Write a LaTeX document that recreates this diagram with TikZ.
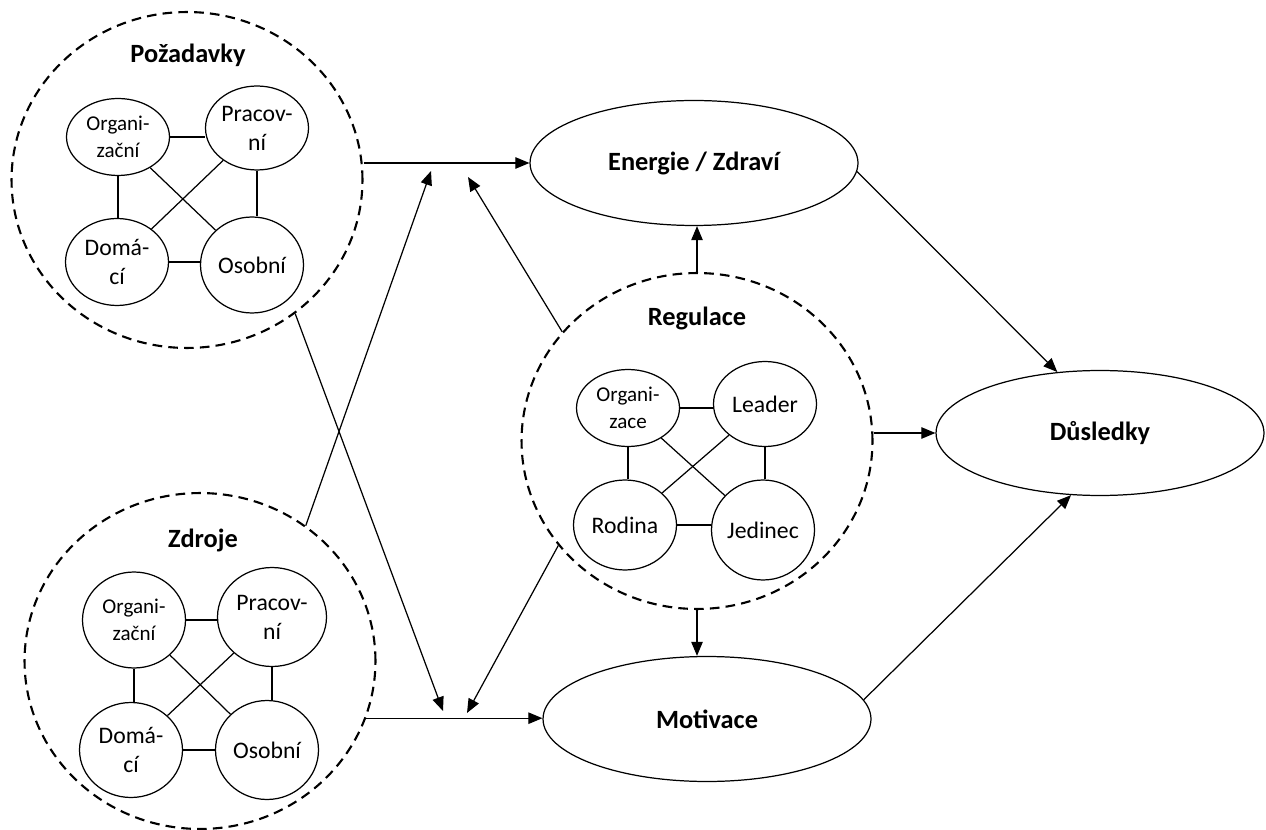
\documentclass[tikz,border=0pt]{standalone}
\usepackage{fontspec}
\setmainfont{Carlito}
\usetikzlibrary{shapes.geometric,arrows.meta}

\begin{document}
\begin{tikzpicture}[x=0.02cm,y=-0.02cm,
  group/.style={draw,ellipse,dash pattern=on 5.5pt off 3.5pt,line width=1.2pt,minimum width=7.02cm,minimum height=6.72cm},
  grouptitle/.style={font=\fontsize{15}{18}\selectfont\bfseries},
  outcome/.style={draw,ellipse,line width=0.7pt,minimum width=6.56cm,minimum height=2.5cm,font=\fontsize{15}{18}\selectfont\bfseries},
  sub/.style={draw,ellipse,inner sep=0pt,line width=0.7pt,minimum width=2.06cm,align=center,font=\fontsize{13.5}{16.5}\selectfont},
  subsm/.style={sub,font=\fontsize{12}{15.5}\selectfont},
  link/.style={line width=0.7pt},
  arr/.style={line width=0.7pt,-{Triangle[length=8pt,width=6.5pt]}}]
\useasboundingbox (0,0) rectangle (1266,830);

\node[group] (pozad) at (187,180) {};
\node[group] (zdroj) at (200,661) {};
\node[group] (regul) at (697,441) {};
\node[grouptitle] (pozadT) at (188,55) {Požadavky};
\node[grouptitle] (zdrojT) at (203,540) {Zdroje};
\node[grouptitle] (regulT) at (697,318) {Regulace};

\node[subsm,minimum height=1.54cm] (p1) at (118,137) {Organi-\\zační};
\node[sub,minimum height=1.68cm] (p2) at (257,128) {Pracov-\\ní};
\node[sub,minimum height=1.74cm] (p3) at (117,262) {Domá-\\cí};
\node[sub,minimum height=1.92cm] (p4) at (252,265) {Osobní};

\node[subsm,minimum height=1.92cm] (z1) at (134,620) {Organi-\\zační};
\node[sub,minimum height=1.98cm,minimum width=2.18cm] (z2) at (272,617) {Pracov-\\ní};
\node[sub,minimum height=1.9cm] (z3) at (131,750) {Domá-\\cí};
\node[sub,minimum height=1.98cm] (z4) at (267,750) {Osobní};

\node[subsm,minimum height=1.54cm] (r1) at (628,408) {Organi-\\zace};
\node[sub,minimum height=1.7cm] (r2) at (765,404) {Leader};
\node[sub,minimum height=1.8cm] (r3) at (625,525) {Rodina};
\node[sub,minimum height=2.0cm] (r4) at (763,530) {Jedinec};

\foreach \g in {p,z,r}{
  \draw[link] (\g1.east) -- (\g1.east -| \g2.west);
  \draw[link] (\g3.east) -- (\g3.east -| \g4.west);
  \draw[link] (\g1.south) -- (\g1.south |- \g3.north);
  \draw[link] (\g2.south) -- (\g2.south |- \g4.north);
  \draw[link] (\g1) -- (\g4);
  \draw[link] (\g2) -- (\g3);
}

\node[outcome] (ener) at (694,163) {Energie / Zdraví};
\node[outcome] (motiv) at (707,719) {Motivace};
\node[outcome] (dusl) at (1100,433) {Důsledky};

\coordinate (j1) at (431,171);
\coordinate (j2) at (468,177);
\coordinate (j3) at (443,711);
\coordinate (j4) at (467,713);
\coordinate (zOut) at (zdroj.-19);

\draw[arr] (pozad.east |- ener.west) -- (ener.west);
\draw[arr] (zOut) -- (zOut -| motiv.west);
\draw[arr] (zdroj.52) -- (j1);
\draw[arr] (regul.141) -- (j2);
\draw[arr] (pozad.-51) -- (j3);
\draw[arr] (regul.217) -- (j4);
\draw[arr] (regul.north) -- (regul.north |- ener.south);
\draw[arr] (regul.south) -- (regul.south |- motiv.north);
\draw[arr] (regul.east |- dusl.west) -- (dusl.west);
\draw[arr] (ener.-3) -- (dusl.125);
\draw[arr] (motiv.7) -- (dusl.-115);
\end{tikzpicture}
\end{document}
